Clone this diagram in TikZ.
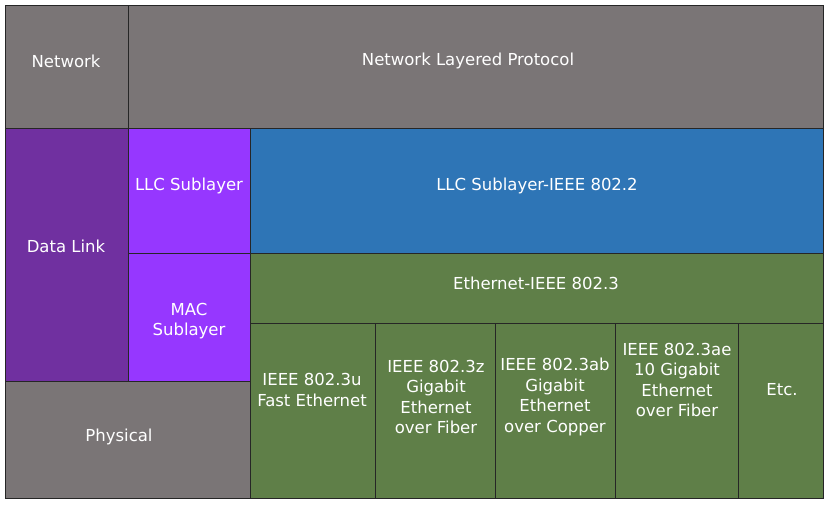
\documentclass[tikz,border=0pt]{standalone}
\usepackage{fontspec}
\setmainfont{DejaVu Sans}
\definecolor{layergray}{RGB}{122,117,118}
\definecolor{dlpurple}{RGB}{112,48,160}
\definecolor{subpurple}{RGB}{150,55,255}
\definecolor{llcblue}{RGB}{46,117,182}
\definecolor{ethgreen}{RGB}{95,127,72}
\tikzset{
  cell/.style={draw=black!85, line width=0.9pt},
  txt/.style={text=white, align=center, font=\fontsize{16.5}{20.5}\selectfont, inner sep=0pt}
}
\begin{document}
\begin{tikzpicture}[x=1pt, y=-1pt]
\useasboundingbox (0,0) rectangle (828,504);
% upper layer
\filldraw[cell, fill=layergray] (5,5) rectangle (128,128);
\filldraw[cell, fill=layergray] (128,5) rectangle (823,128);
% data link and sublayers
\filldraw[cell, fill=dlpurple] (5,128) rectangle (128,381);
\filldraw[cell, fill=subpurple] (128,128) rectangle (250,253);
\filldraw[cell, fill=subpurple] (128,253) rectangle (250,381);
\filldraw[cell, fill=llcblue] (250,128) rectangle (823,253);
\filldraw[cell, fill=ethgreen] (250,253) rectangle (823,323);
% physical
\filldraw[cell, fill=layergray] (5,381) rectangle (250,498);
% 802.3 variants
\foreach \xa/\xb in {250/375,375/495,495/615,615/738,738/823}
  \filldraw[cell, fill=ethgreen] (\xa,323) rectangle (\xb,498);

\node[txt] (network) at (66,61) {Network};
\node[txt] (protocol) at (468,61) {Network Layered Protocol};
\node[txt] (datalink) at (66,246) {Data Link};
\node[txt] (llc) at (189,186) {LLC Sublayer};
\node[txt] (mac) at (189,321) {MAC\\Sublayer};
\node[txt] (llcieee) at (537,186) {LLC Sublayer-IEEE 802.2};
\node[txt] (ethernet) at (536,283) {Ethernet-IEEE 802.3};
\node[txt] (physical) at (119,437) {Physical};
\node[txt] (fast) at (312,390) {IEEE 802.3u\\Fast Ethernet};
\node[txt] (gigfiber) at (436,397) {IEEE 802.3z\\Gigabit\\Ethernet\\over Fiber};
\node[txt] (gigcopper) at (555,397) {IEEE 802.3ab\\Gigabit\\Ethernet\\over Copper};
\node[txt] (tengig) at (677,380) {IEEE 802.3ae\\10 Gigabit\\Ethernet\\over Fiber};
\node[txt] (etc) at (782,390) {Etc.};
\end{tikzpicture}
\end{document}
